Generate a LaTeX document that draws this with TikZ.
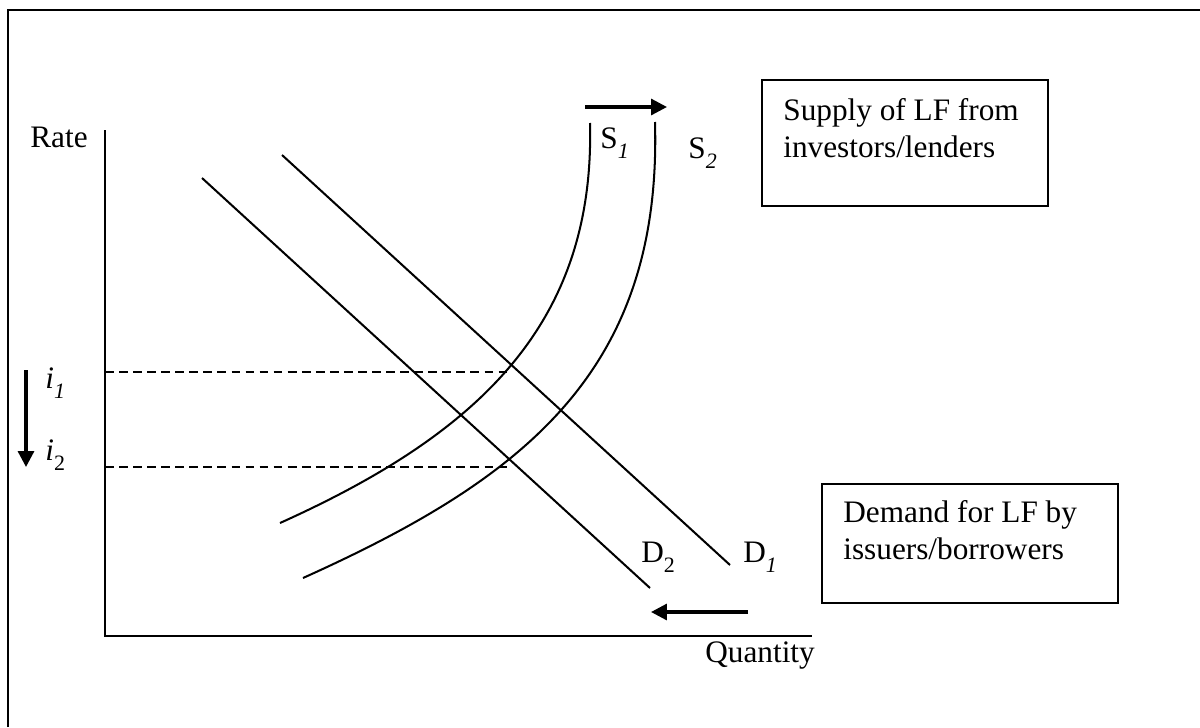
\documentclass[tikz,border=0pt]{standalone}
\usepackage{fontspec}
\setmainfont{Liberation Serif}
\usetikzlibrary{arrows.meta}
\newcommand\lsub[1]{\raisebox{-0.33em}{\fontsize{12.5}{13}\selectfont #1}}
\begin{document}
\begin{tikzpicture}[x=0.02cm,y=-0.02cm,
  curve/.style={line width=1.15pt},
  axis/.style={line width=1.15pt},
  guide/.style={line width=1.1pt, dash pattern=on 5pt off 3pt},
  shiftarrow/.style={line width=1.8pt, -{Triangle[length=9pt,width=9pt]}},
  lbl/.style={inner sep=0pt, anchor=base west, font=\fontsize{17.8}{21}\selectfont},
  boxtext/.style={inner sep=0pt, anchor=north west, align=left, font=\fontsize{17.8}{21}\selectfont},
  infobox/.style={draw, line width=1.3pt, anchor=north west, inner sep=0pt},
]
\useasboundingbox (0,0) rectangle (1200,727);
\fill[white] (0,0) rectangle (1200,727);
% outer frame (only top and left edges visible)
\draw[line width=1.4pt] (8,727) -- (8,10) -- (1200,10);

% axes
\coordinate (origin) at (105,636);
\coordinate (ytop) at (105,130);
\coordinate (xend) at (812,636);
\draw[axis] (ytop) -- (origin) -- (xend);
\node[lbl] (rate) at (30,147) {Rate};
\node[lbl] (qty) at (705,662) {Quantity};

% dashed rate guides
\coordinate (i1a) at (105,372);
\coordinate (i1b) at (507,372);
\coordinate (i2a) at (105,467);
\coordinate (i2b) at (511,467);
\draw[guide] (i1a) -- (i1b);
\draw[guide] (i2a) -- (i2b);
\node[lbl] (i1) at (45,388) {\textit{i}\lsub{\textit{1}}};
\node[lbl] (i2) at (45,460) {\textit{i}\lsub{2}};
\coordinate (ldown1) at (26,370);
\coordinate (ldown2) at (26,467);
\draw[shiftarrow] (ldown1) -- (ldown2);

% demand curves
\coordinate (d1a) at (282,155);
\coordinate (d1b) at (730,565);
\coordinate (d2a) at (202,178);
\coordinate (d2b) at (650,588);
\draw[curve] (d1a) -- (d1b);
\draw[curve] (d2a) -- (d2b);
\node[lbl] (D1) at (743,562) {D\lsub{\textit{1}}};
\node[lbl] (D2) at (641,562) {D\lsub{2}};

% supply curves
\coordinate (s1a) at (280,523);
\coordinate (s1b) at (590,123);
\coordinate (s2a) at (303,578);
\coordinate (s2b) at (655,122);
\draw[curve] (s1a) .. controls (480,433) and (595,323) .. (s1b);
\draw[curve] (s2a) .. controls (523,479) and (662,372) .. (s2b);
\node[lbl] (S1) at (600,148) {S\lsub{\textit{1}}};
\node[lbl] (S2) at (688,158) {S\lsub{\textit{2}}};

% shift arrows
\coordinate (top1) at (585,107);
\coordinate (top2) at (667,107);
\draw[shiftarrow] (top1) -- (top2);
\coordinate (bot1) at (748,612);
\coordinate (bot2) at (651,612);
\draw[shiftarrow] (bot1) -- (bot2);

% info boxes
\node[infobox, minimum width=286*0.02cm, minimum height=126*0.02cm] (supplybox) at (761,79) {};
\node[boxtext] (supplytext) at (783,98.5) {Supply of LF from\\investors/lenders};
\node[infobox, minimum width=296*0.02cm, minimum height=119*0.02cm] (demandbox) at (821,483) {};
\node[boxtext] (demandtext) at (843,500.5) {Demand for LF by\\issuers/borrowers};
\end{tikzpicture}
\end{document}
